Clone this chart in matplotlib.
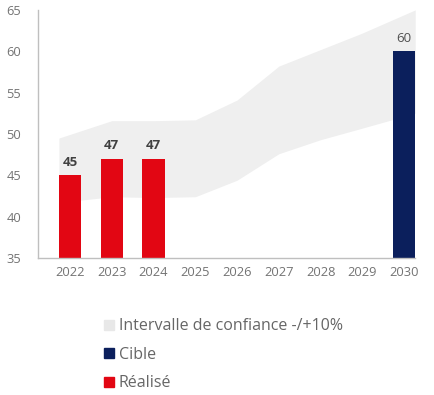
import matplotlib.pyplot as plt
import numpy as np
from matplotlib.patches import Patch

plt.rcParams['font.family'] = ['Open Sans', 'DejaVu Sans']

annees = ['2022', '2023', '2024', '2025', '2026', '2027', '2028', '2029', '2030']
realise = [45, 47, 47, None, None, None, None, None, None]
cible = [None, None, None, None, None, None, None, None, 60]
bande_basse = [41.7, 42.4, 42.3, 42.4, 44.4, 47.6, 49.3, 50.7, 52.5]
bande_haute = [49.5, 51.6, 51.6, 51.7, 54.1, 58.2, 60.2, 62.2, 65.0]

rouge = '#e20613'
marine = '#0b1f5c'
gris_bande = '#efefef'
gris_texte = '#737373'

fig = plt.figure(figsize=(4.35, 3.95), dpi=100)
ax = fig.add_axes([0.087, 0.347, 0.867, 0.628])

x = np.arange(len(annees))
largeur = 0.53

# bande de confiance, étendue jusqu'aux bords des barres extrêmes
xb = x.astype(float)
xb[0] -= largeur / 2
xb[-1] += largeur / 2
ax.fill_between(xb, bande_basse, bande_haute, color=gris_bande, lw=0, zorder=1)

for i, v in enumerate(realise):
    if v is not None:
        ax.bar(x[i], v - 35, bottom=35, width=largeur, color=rouge, zorder=2)
        ax.text(x[i], v + 0.8, str(v), ha='center', va='bottom', fontsize=9.5,
                fontweight='bold', color='#404040')
for i, v in enumerate(cible):
    if v is not None:
        ax.bar(x[i], v - 35, bottom=35, width=largeur, color=marine, zorder=2)
        ax.text(x[i], v + 0.8, str(v), ha='center', va='bottom', fontsize=9.5,
                color='#505050')

ax.set_xlim(-0.77, 8.26)
ax.set_ylim(35, 65)
ax.set_yticks(range(35, 66, 5))
ax.set_xticks(x)
ax.set_xticklabels(annees)
ax.tick_params(length=0, labelsize=9.3, colors=gris_texte, pad=6)
ax.tick_params(axis='y', pad=12)
for s in ['top', 'right']:
    ax.spines[s].set_visible(False)
for s in ['left', 'bottom']:
    ax.spines[s].set_color('#bfbfbf')
    ax.spines[s].set_linewidth(1)

poignees = [Patch(color='#e8e8e8'), Patch(color=marine), Patch(color=rouge)]
textes = ['Intervalle de confiance -/+10%', 'Cible', 'Réalisé']
leg = fig.legend(poignees, textes, loc='upper left', bbox_to_anchor=(0.225, 0.21),
                 frameon=False, fontsize=11.5, handlelength=0.62, handleheight=0.62,
                 handletextpad=0.3, labelspacing=0.78, borderaxespad=0)
for t in leg.get_texts():
    t.set_color('#666666')

fig.savefig('out.png', dpi=100)
